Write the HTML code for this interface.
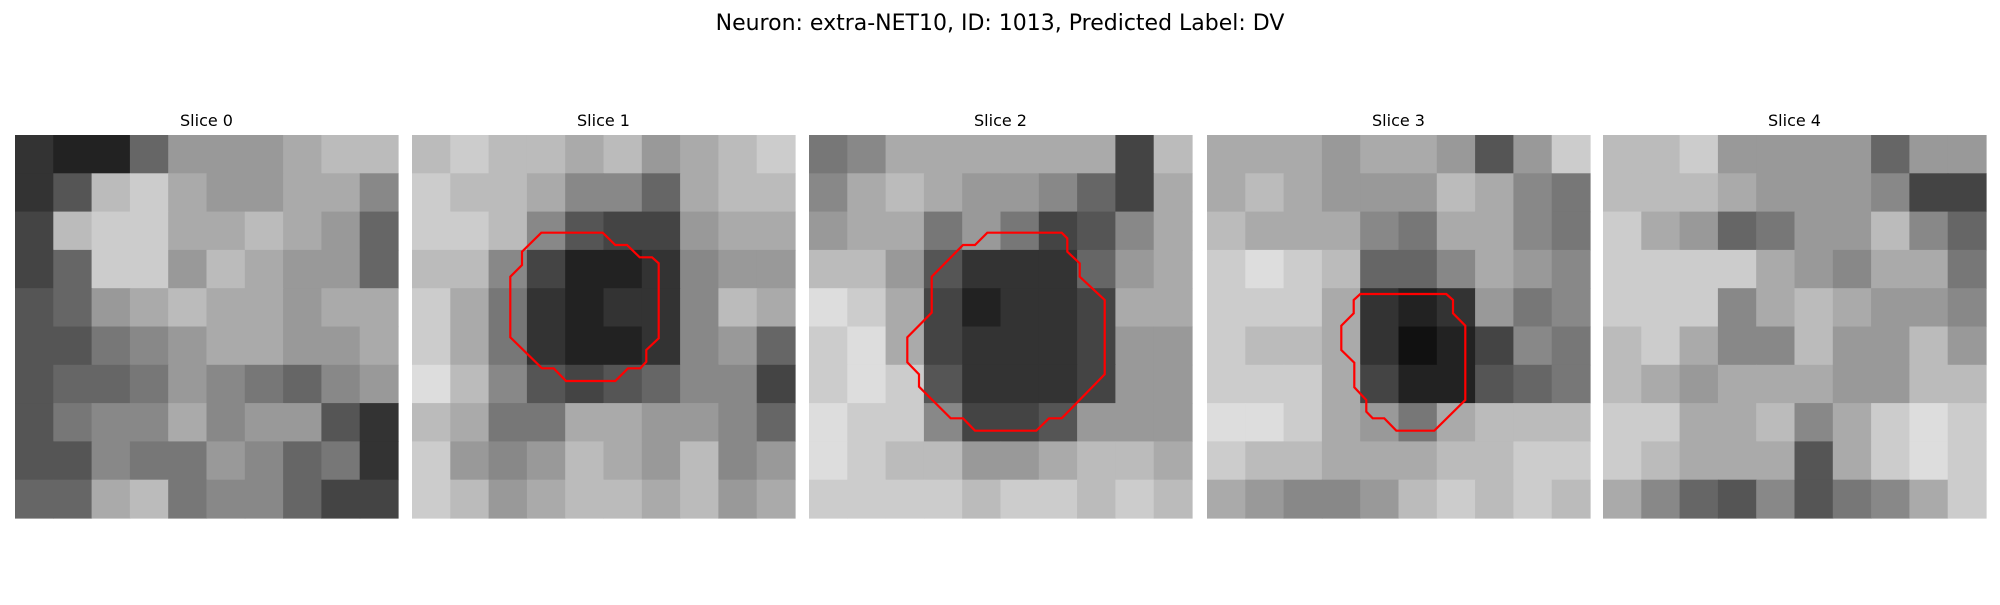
<!DOCTYPE html>
<html><head><meta charset="utf-8"><style>
body{margin:0;background:#fff;width:2000px;height:600px;overflow:hidden;font-family:"Liberation Sans","DejaVu Sans",sans-serif}
</style></head><body>
<svg id="fig" width="2000" height="600" xmlns="http://www.w3.org/2000/svg">
<rect width="2000" height="600" fill="#fff"/>
<text x="1000" y="30" text-anchor="middle" font-size="22" font-family="DejaVu Sans, Liberation Sans, sans-serif" fill="#000">Neuron: extra-NET10, ID: 1013, Predicted Label: DV</text>
</svg>
<script>
const sliceTitles=["Slice 0","Slice 1","Slice 2","Slice 3","Slice 4"];
const slice0=["3226999abb","35bca99aa8","4bccaaba96","46cc9ba996","569abaa9aa","55789aa99a","5667987689","5788a89953","5587798673","66ab788644"];
const slice1=["bcbbab9abc","cbba886abb","ccb85449aa","bb84223899","ca732338ba","ca73223896","db85456884","ba77aa9986","c989ba9b89","cb9abbab9a"];
const slice2=["78aaaaaa4b","8aba99864a","9aa797458a","bb9533369a","dca42334aa","cda4333499","cdc5333499","dcc8445999","dcbb99abba","ccccbccbcb"];
const slice3=["aaa9aa959c","aba999ba87","baaa87aa87","cdcb668a98","ccca323978","cbba312487","ccca422567","ddca97abbb","cbbaaabbcc","a9889bcbcb"];
const slice4=["bbc9999699a","bbba999844","ca96799b86","cccca98aa75","ccc8aba998","bca88b99b9","ba9aaa99bb","ccaab8acdc","cbaaa5acdc","a8658578acd"].map(s=>s.slice(0,10));
const sliceData=[slice0,slice1,slice2,slice3,slice4];
// contour vertices in reference units (extent 1149 per panel side)
const contourExtent=1149;
const contour1=[[388,293],[572,293],[610,330],[645,330],[683,367],[720,367],[740,385],[740,610],[703,645],[703,680],[685,700],[648,700],[610,738],[462,738],[425,700],[390,700],[295,607],[295,425],[330,390],[330,350]];
const contour2=[[535,293],[758,293],[775,310],[775,350],[812,385],[812,425],[887,495],[887,718],[758,850],[720,850],[682,887],[498,887],[462,850],[425,850],[330,755],[330,718],[295,682],[295,607],[368,533],[368,425],[462,330],[498,330]];
const contour3=[[460,477],[718,477],[738,495],[738,535],[775,572],[775,795],[682,887],[568,887],[532,850],[497,850],[478,830],[478,795],[442,757],[442,683],[403,645],[403,572],[440,535],[440,495]];
const contours=[null,contour1,contour2,contour3,null];

const NS="http://www.w3.org/2000/svg";
const svg=document.getElementById('fig');
const panelX=[15,412,809,1207,1603], panelY=135, panelS=383;
sliceData.forEach((rows,p)=>{
  const g=document.createElementNS(NS,'g');
  
  
  svg.appendChild(g);
  const t=document.createElementNS(NS,'text');
  
  
  t.setAttribute('x',panelX[p]+panelS/2);t.setAttribute('y',126);
  t.setAttribute('text-anchor','middle');t.setAttribute('font-size','16');
  t.setAttribute('font-family','DejaVu Sans, Liberation Sans, sans-serif');
  t.textContent=sliceTitles[p];g.appendChild(t);
  const n=rows.length, cs=panelS/n;
  rows.forEach((row,r)=>{
    for(let c=0;c<n;c++){
      const v=parseInt(row[c],16);const gv=Math.round(v*17);
      const rc=document.createElementNS(NS,'rect');
      
      
      rc.setAttribute('x',(panelX[p]+c*cs).toFixed(2));rc.setAttribute('y',(panelY+r*cs).toFixed(2));
      rc.setAttribute('width',(cs+0.6).toFixed(2));rc.setAttribute('height',(cs+0.6).toFixed(2));
      rc.setAttribute('fill',`rgb(${gv},${gv},${gv})`);
      g.appendChild(rc);
    }
  });
  const ct=contours[p];
  if(ct){
    const pl=document.createElementNS(NS,'polygon');
    
    
    pl.setAttribute('points',ct.map(([x,y])=>(panelX[p]+x/contourExtent*panelS).toFixed(1)+','+(panelY+y/contourExtent*panelS).toFixed(1)).join(' '));
    pl.setAttribute('fill','none');pl.setAttribute('stroke','#ff0000');pl.setAttribute('stroke-width','2.2');
    g.appendChild(pl);
  }
});
</script>
</body></html>
